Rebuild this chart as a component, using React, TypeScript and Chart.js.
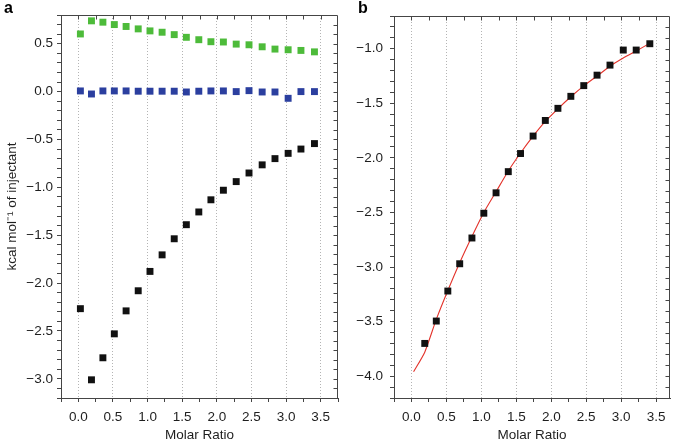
import React, { useEffect, useRef } from 'react';
import { Chart, registerables } from 'chart.js';

Chart.register(...registerables);

// ---- data ----
const molarRatio = [0.03, 0.19, 0.355, 0.52, 0.69, 0.865, 1.035, 1.21, 1.385, 1.56, 1.74, 1.915, 2.095, 2.28, 2.465, 2.655, 2.84, 3.03, 3.215, 3.41];
const totalHeat = [0.602, 0.739, 0.725, 0.70, 0.68, 0.655, 0.634, 0.62, 0.595, 0.567, 0.542, 0.521, 0.518, 0.496, 0.489, 0.468, 0.444, 0.437, 0.43, 0.415];
const dilutionHeat = [0.007, -0.025, 0.007, 0.007, 0.007, 0.004, 0.004, 0.004, 0.004, -0.004, 0.004, 0.007, 0.007, 0.0, 0.01, -0.004, -0.004, -0.07, 0.0, 0.0];
const integratedHeat = [-2.267, -3.01, -2.78, -2.53, -2.29, -2.08, -1.878, -1.705, -1.537, -1.39, -1.257, -1.13, -1.03, -0.94, -0.85, -0.765, -0.70, -0.645, -0.60, -0.543];
const correctedHeat = [-3.70, -3.495, -3.22, -2.97, -2.734, -2.507, -2.32, -2.126, -1.96, -1.80, -1.657, -1.546, -1.436, -1.338, -1.242, -1.15, -1.012, -1.012, -0.954];
const fitCurve = [-3.96, -3.78, -3.48, -3.215, -2.96, -2.72, -2.50, -2.31, -2.12, -1.955, -1.80, -1.665, -1.55, -1.44, -1.34, -1.25, -1.16, -1.085, -1.02, -0.95];
const xTickValues = [-0.25, 0, 0.25, 0.5, 0.75, 1, 1.25, 1.5, 1.75, 2, 2.25, 2.5, 2.75, 3, 3.25, 3.5, 3.75];

const FONT = '"Liberation Sans", Arial, Helvetica, sans-serif';
const FSIZE = 13.5;
const FRAME = '#454545';
const TEXT = '#1e1e1e';
const GREEN = '#4dbb3a';
const BLUE = '#2b3f9f';
const BLACK = '#111111';
const RED = '#e3322a';

const isHalf = (v: number) => v !== undefined && Math.abs(v * 2 - Math.round(v * 2)) < 1e-6;
const fmt = (v: number) => {
  if (Math.abs(v) < 1e-9) return '0.0';
  return (v < 0 ? '\u2212' : '') + Math.abs(v).toFixed(1);
};

const framePlugin = (letter: string, lx: number, ly: number) => ({
  id: 'frame_' + letter,
  afterDraw(chart: any) {
    const { ctx, chartArea: a, scales } = chart;
    ctx.save();
    ctx.strokeStyle = FRAME;
    ctx.lineWidth = 1;
    const top = Math.round(a.top) + 0.5;
    const right = Math.round(a.right) - 0.5;
    ctx.beginPath();
    ctx.moveTo(a.left, top);
    ctx.lineTo(right, top);
    ctx.lineTo(right, a.bottom);
    ctx.stroke();
    ctx.beginPath();
    scales.x.ticks.forEach((t: any) => {
      const px = Math.round(scales.x.getPixelForValue(t.value)) + 0.5;
      if (px > a.left + 1 && px < a.right - 1) {
        ctx.moveTo(px, top);
        ctx.lineTo(px, top + 4);
      }
    });
    scales.y.ticks.forEach((t: any) => {
      const py = Math.round(scales.y.getPixelForValue(t.value)) + 0.5;
      if (py > a.top + 1 && py < a.bottom - 1) {
        ctx.moveTo(right, py);
        ctx.lineTo(right - 4, py);
      }
    });
    ctx.stroke();
    ctx.fillStyle = '#000';
    ctx.font = `bold 16px ${FONT}`;
    ctx.textBaseline = 'alphabetic';
    ctx.textAlign = 'left';
    ctx.fillText(letter, lx, ly);
    ctx.restore();
  },
});

function xScale(min: number, max: number) {
  return {
    type: 'linear',
    min,
    max,
    afterBuildTicks: (s: any) => {
      s.ticks = xTickValues.filter((v) => v >= min - 1e-9 && v <= max + 1e-9).map((v) => ({ value: v }));
    },
    afterFit: (s: any) => {
      s.height = 43;
    },
    ticks: {
      autoSkip: false,
      maxRotation: 0,
      minRotation: 0,
      padding: 7,
      color: TEXT,
      font: { family: FONT, size: FSIZE },
      callback: (v: number) => (isHalf(v) && v >= 0 ? v.toFixed(1) : ''),
    },
    grid: {
      drawOnChartArea: true,
      color: (c: any) => (c.tick && isHalf(c.tick.value) && c.tick.value >= 0 ? '#b4b4b4' : 'rgba(0,0,0,0)'),
      lineWidth: 1,
      tickColor: FRAME,
      tickLength: 4,
      tickWidth: 1,
    },
    border: { display: true, color: FRAME, width: 1, dash: [1, 2] },
    title: {
      display: true,
      text: 'Molar Ratio',
      color: TEXT,
      font: { family: FONT, size: FSIZE },
      padding: { top: 0, bottom: -2 },
    },
  };
}

function yScale(min: number, max: number, width: number, pad: number, title?: string) {
  return {
    type: 'linear',
    min,
    max,
    afterFit: (s: any) => {
      s.width = width;
    },
    ticks: {
      stepSize: 0.1,
      autoSkip: false,
      padding: pad,
      color: TEXT,
      font: { family: FONT, size: FSIZE },
      callback: (v: number) => (isHalf(v) ? fmt(v) : ''),
    },
    grid: {
      drawOnChartArea: false,
      tickColor: FRAME,
      tickLength: 4,
      tickWidth: 1,
    },
    border: { display: true, color: FRAME, width: 1 },
    title: title
      ? {
          display: true,
          text: title,
          color: TEXT,
          font: { family: FONT, size: FSIZE },
          padding: { top: 4, bottom: 0 },
        }
      : { display: false },
  };
}

const squares = (label: string, xs: number[], ys: number[], color: string) => ({
  label,
  data: xs.map((x, i) => ({ x, y: ys[i] })),
  showLine: false,
  pointStyle: 'rect',
  pointRadius: 4.9,
  pointHoverRadius: 4.9,
  backgroundColor: color,
  borderColor: color,
  borderWidth: 0,
  order: 0,
});

export default function App() {
  const refA = useRef<HTMLCanvasElement>(null);
  const refB = useRef<HTMLCanvasElement>(null);

  useEffect(() => {
    const common = {
      responsive: false,
      animation: false,
      events: [],
      plugins: { legend: { display: false }, tooltip: { enabled: false } },
    };

    const chartA = new Chart(refA.current as HTMLCanvasElement, {
      type: 'scatter',
      data: {
        datasets: [
          squares('Total heat', molarRatio, totalHeat, GREEN),
          squares('Dilution', molarRatio, dilutionHeat, BLUE),
          squares('Integrated heat', molarRatio, integratedHeat, BLACK),
        ],
      },
      options: {
        ...common,
        layout: { padding: { top: 15, right: 5, left: 0, bottom: 0 } },
        scales: {
          x: xScale(-0.25, 3.75),
          y: yScale(-3.2, 0.8, 61, 4, 'kcal mol\u207B\u00B9 of injectant'),
        },
      } as any,
      plugins: [framePlugin('a', 4, 13)],
    } as any);

    const chartB = new Chart(refB.current as HTMLCanvasElement, {
      type: 'scatter',
      data: {
        datasets: [
          squares('Corrected heat', molarRatio.slice(1), correctedHeat, BLACK),
          {
            label: 'Fit',
            data: molarRatio.map((x, i) => ({ x, y: fitCurve[i] })),
            showLine: true,
            pointRadius: 0,
            borderColor: RED,
            borderWidth: 1.1,
            tension: 0.2,
            order: 1,
          },
        ],
      },
      options: {
        ...common,
        layout: { padding: { top: 16, right: 3, left: 0, bottom: 0 } },
        scales: {
          x: xScale(-0.25, 3.7),
          y: yScale(-4.2, -0.7, 54, 7),
        },
      } as any,
      plugins: [framePlugin('b', 18, 13)],
    } as any);

    return () => {
      chartA.destroy();
      chartB.destroy();
    };
  }, []);

  return (
    <div style={{ position: 'absolute', left: 0, top: 0, width: 675, height: 441, background: '#fff', overflow: 'hidden' }}>
      <canvas ref={refA} width={345} height={441} style={{ position: 'absolute', left: 0, top: 0 }} />
      <canvas ref={refB} width={335} height={441} style={{ position: 'absolute', left: 340, top: 0 }} />
    </div>
  );
}
